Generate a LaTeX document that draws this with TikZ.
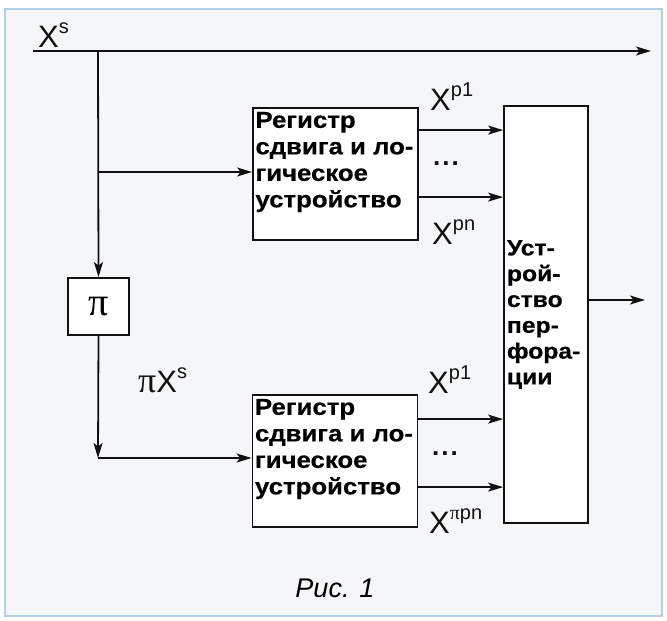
\documentclass[tikz,border=0pt]{standalone}
\usepackage{fontspec}
\setmainfont{Liberation Sans}
\newfontfamily\boxfont[FakeStretch=1.12, FakeBold=0.5]{Liberation Sans Bold}
\newfontfamily\pifont{Liberation Serif}
\usetikzlibrary{arrows.meta, calc}
\definecolor{PageBg}{HTML}{F4F6F8}
\definecolor{FrameLine}{HTML}{B3CFE4}
\definecolor{InkColor}{HTML}{111111}
\newcommand{\xsup}[1]{X\raisebox{14pt}{\fontsize{20}{20}\selectfont #1}}
\newcommand{\regtext}{\begin{minipage}[c][126pt][t]{160pt}\raggedright\vspace*{1pt}\boxfont\fontsize{23}{26.5}\selectfont
  Регистр\\сдвига и ло-\\гическое\\устройство\end{minipage}}

\begin{document}
\begin{tikzpicture}[x=1pt, y=-1pt,
    block/.style={rectangle, draw=InkColor, fill=white, line width=1.8pt, inner sep=3pt},
    regbox/.style={block, minimum width=165pt, minimum height=132pt, inner xsep=2.5pt},
    perfbox/.style={block, minimum width=84pt, minimum height=417pt, text width=82pt, inner sep=1pt, align=left, font=\boxfont\fontsize{22}{25.8}\selectfont},
    pibox/.style={block, minimum width=61pt, minimum height=57pt, inner sep=0pt, font=\pifont\fontsize{40}{40}\selectfont},
    lab/.style={inner sep=0pt, text=InkColor, font=\fontsize{31}{31}\selectfont},
    dots/.style={inner sep=0pt, text=InkColor, font=\bfseries\fontsize{26}{26}\selectfont},
    arrow/.style={-{Stealth[length=15pt, width=9pt, inset=3.5pt]}, line width=1.8pt, InkColor}
  ]
  % Frame
  \useasboundingbox (0,0) rectangle (667,621);
  \draw[FrameLine, line width=1.2pt, fill=PageBg] (5,9) rectangle (662,616);

  % Nodes
  \node[regbox] (reg1) at (335.5,174) {\regtext};
  \node[regbox] (reg2) at (335,461) {\regtext};
  \node[perfbox] (perf) at (546,314.5) {\hspace*{2pt}Уст-\\\hspace*{2pt}рой-\\\hspace*{2pt}ство\\\hspace*{2pt}пер-\\\hspace*{2pt}фора-\\\hspace*{2pt}ции};
  \node[pibox] (pi) at (98.5,306.5) {π};

  \coordinate (in) at (33,51);
  \coordinate (out) at (651,51);
  \coordinate (split) at (98,51);
  \coordinate (b1) at (98,172);
  \coordinate (b2) at (98,458);
  \coordinate (fin) at (645,300);

  % Labels
  \node[lab, anchor=base west] (xs) at (38,47) {\xsup{s}};
  \node[lab, anchor=base west] (pixs) at (138,392) {{\pifont\fontsize{36}{36}\selectfont π}\xsup{s}};
  \node[lab, anchor=base west] (up1) at (430,110) {\xsup{p1}};
  \node[lab, anchor=base west] (upn) at (432,244) {\xsup{pn}};
  \node[lab, anchor=base west] (lp1) at (428,393) {\xsup{p1}};
  \node[lab, anchor=base west] (lpn) at (429,533) {\xsup{{\pifont π}pn}};
  \node[dots] (updots) at (446,164) {.\kern2pt.\kern2pt.};
  \node[dots] (lodots) at (445,454) {.\kern2pt.\kern2pt.};
  \node[inner sep=0pt, font=\itshape\fontsize{27}{27}\selectfont] (cap) at (335,588) {Рис. 1};

  % Connections
  \draw[arrow] (in) -- (out);
  \draw[arrow] (split) -- (pi.north);
  \draw[arrow] (b1) -- (b1 -| reg1.west);
  \draw[arrow] (pi.south) -- (b2);
  \draw[arrow] (b2) -- (b2 -| reg2.west);
  \draw[arrow] ([yshift=-23pt]reg1.north east) coordinate (r1a) -- (r1a -| perf.west);
  \draw[arrow] ([yshift=-90pt]reg1.north east) coordinate (r1b) -- (r1b -| perf.west);
  \draw[arrow] ([yshift=-25pt]reg2.north east) coordinate (r2a) -- (r2a -| perf.west);
  \draw[arrow] ([yshift=-93pt]reg2.north east) coordinate (r2b) -- (r2b -| perf.west);
  \draw[arrow] (fin -| perf.east) -- (fin);
\end{tikzpicture}
\end{document}
